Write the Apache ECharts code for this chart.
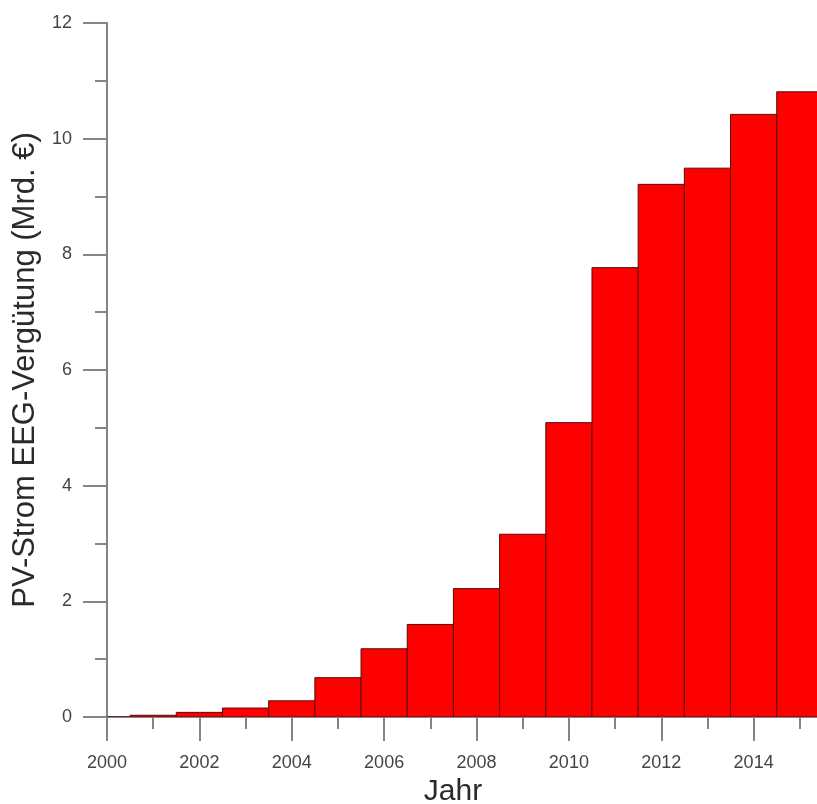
<!DOCTYPE html>
<html>
<head>
<meta charset="utf-8">
<script src="https://cdn.jsdelivr.net/npm/echarts@6/dist/echarts.min.js"></script>
<style>
html,body{margin:0;padding:0;background:#fff;}
#chart{width:817px;height:804px;}
</style>
</head>
<body>
<div id="chart"></div>
<script>
const years = [2000,2001,2002,2003,2004,2005,2006,2007,2008,2009,2010,2011,2012,2013,2014,2015];
const values = [0.0,0.03,0.08,0.155,0.28,0.68,1.18,1.60,2.22,3.16,5.09,7.77,9.21,9.49,10.42,10.81];
const yTitle = 'PV-Strom EEG-Vergütung (Mrd. €)';
const xTitle = 'Jahr';

const data = years.map((y, i) => [y, values[i]]);
const chart = echarts.init(document.getElementById('chart'), null, {renderer: 'canvas'});
const axisColor = '#858585';
chart.setOption({
  animation: false,
  backgroundColor: '#ffffff',
  grid: {left: 107, right: -29, top: 23, bottom: 87, containLabel: false, outerBoundsMode: 'none'},
  xAxis: {
    type: 'value', min: 2000, max: 2016, interval: 2,
    name: xTitle, nameLocation: 'middle', nameGap: 58,
    nameTextStyle: {fontFamily: 'Liberation Sans, Arial', fontSize: 30, color: '#2a2a2a', padding: [0, 47, 0, 0]},
    axisLine: {show: true, onZero: false, lineStyle: {color: axisColor, width: 2}},
    axisTick: {show: true, length: 24, lineStyle: {color: axisColor, width: 2}},
    minorTick: {show: true, splitNumber: 2, length: 12, lineStyle: {color: axisColor, width: 2}},
    splitLine: {show: false},
    axisLabel: {margin: 37, fontFamily: 'Liberation Sans, Arial', fontSize: 18, color: '#444444', formatter: v => String(v)}
  },
  yAxis: {
    type: 'value', min: 0, max: 12, interval: 2,
    name: yTitle, nameLocation: 'middle', nameGap: 50, nameRotate: 90,
    nameTextStyle: {fontFamily: 'Liberation Sans, Arial', fontSize: 31, color: '#2a2a2a'},
    axisLine: {show: true, lineStyle: {color: axisColor, width: 2}},
    axisTick: {show: true, length: 24, lineStyle: {color: axisColor, width: 2}},
    minorTick: {show: true, splitNumber: 2, length: 12, lineStyle: {color: axisColor, width: 2}},
    splitLine: {show: false},
    axisLabel: {margin: 35, fontFamily: 'Liberation Sans, Arial', fontSize: 18, color: '#444444'}
  },
  series: [{
    type: 'custom',
    data: data,
    clip: true,
    encode: {x: 0, y: 1},
    renderItem: function (params, api) {
      const x = api.value(0), v = api.value(1);
      const p0 = api.coord([x - 0.5, v]);
      const p1 = api.coord([x + 0.5, 0]);
      return {
        type: 'rect',
        shape: {x: p0[0], y: p0[1], width: p1[0] - p0[0], height: p1[1] - p0[1]},
        style: {fill: '#ff0000', stroke: '#5a0a0a', lineWidth: 1}
      };
    }
  }]
});
</script>
</body>
</html>
